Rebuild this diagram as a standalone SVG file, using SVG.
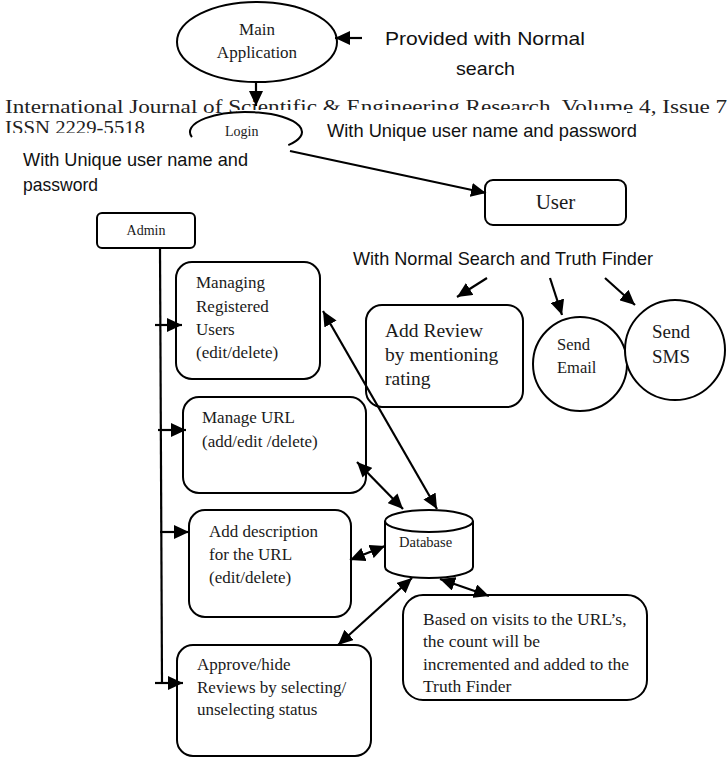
<svg xmlns="http://www.w3.org/2000/svg" width="727" height="761" viewBox="0 0 727 761">
<style>
.shape{fill:#fff;stroke:#000;stroke-width:2}
.line{fill:none;stroke:#000;stroke-width:2.2}
.serif{font-family:"Liberation Serif","Times New Roman",serif;fill:#1a1a1a}
.sans{font-family:"Liberation Sans",Arial,sans-serif;fill:#111;font-size:19px}
.hdr{font-family:"Liberation Serif","Times New Roman",serif;fill:#222;font-size:18.5px}
</style>
<defs>
<marker id="ah" markerUnits="userSpaceOnUse" markerWidth="16" markerHeight="14" refX="15" refY="7" orient="auto-start-reverse">
<path d="M0,0 L15,7 L0,14 z" fill="#000"/>
</marker>
</defs>
<rect width="727" height="761" fill="#fff"/>
<g id="header">
<text class="hdr" x="5" y="113" textLength="728" lengthAdjust="spacingAndGlyphs">International Journal of Scientific &amp; Engineering Research, Volume 4, Issue 7,</text>
<text class="hdr" x="5" y="134" textLength="140" lengthAdjust="spacingAndGlyphs">ISSN 2229-5518</text>
<rect x="237" y="110" width="390" height="18" fill="#fff"/>
<rect x="0" y="133" width="160" height="8" fill="#fff"/>
</g>
<g id="labels">
<text class="sans" x="385" y="45" textLength="200" lengthAdjust="spacingAndGlyphs">Provided with Normal</text>
<text class="sans" x="456" y="75" textLength="59" lengthAdjust="spacingAndGlyphs">search</text>
<text class="sans" x="327" y="137" textLength="310" lengthAdjust="spacingAndGlyphs">With Unique user name and password</text>
<text class="sans" x="23" y="166" textLength="225" lengthAdjust="spacingAndGlyphs">With Unique user name and</text>
<text class="sans" x="23" y="191" textLength="75" lengthAdjust="spacingAndGlyphs">password</text>
<text class="sans" x="353" y="265" textLength="300" lengthAdjust="spacingAndGlyphs">With Normal Search and Truth Finder</text>
</g>
<g id="main-application">
<ellipse class="shape" cx="257" cy="42" rx="80" ry="40"/>
<text class="serif" font-size="17" x="257" y="35" text-anchor="middle">Main</text>
<text class="serif" font-size="17" x="257" y="58" text-anchor="middle">Application</text>
</g>
<g id="login">
<path class="line" style="stroke-width:2" d="M191.9,137.2 A56,20 0 1 1 288.3,145.1"/>
<text class="serif" font-size="14" x="225" y="136">Login</text>
</g>
<g id="user">
<rect class="shape" x="485" y="180" width="141" height="45" rx="8"/>
<text class="serif" font-size="21" x="555.5" y="209" text-anchor="middle">User</text>
</g>
<g id="admin">
<rect class="shape" x="97" y="213" width="98" height="35" rx="5"/>
<text class="serif" font-size="14" x="146" y="235" text-anchor="middle">Admin</text>
</g>
<g id="managing-users">
<rect class="shape" x="176" y="262" width="144" height="117" rx="16"/>
<text class="serif" font-size="17" x="196" y="288">Managing</text>
<text class="serif" font-size="17" x="196" y="312">Registered</text>
<text class="serif" font-size="17" x="196" y="335">Users</text>
<text class="serif" font-size="17" x="196" y="358">(edit/delete)</text>
</g>
<g id="add-review">
<rect class="shape" x="366" y="305" width="157" height="102" rx="16"/>
<text class="serif" font-size="19.5" x="385" y="337">Add Review</text>
<text class="serif" font-size="19.5" x="385" y="361">by mentioning</text>
<text class="serif" font-size="19.5" x="385" y="385">rating</text>
</g>
<g id="send-email">
<circle class="shape" cx="580" cy="364" r="47"/>
<text class="serif" font-size="16.5" x="557" y="350">Send</text>
<text class="serif" font-size="16.5" x="557" y="373">Email</text>
</g>
<g id="send-sms">
<circle class="shape" cx="675" cy="350" r="50"/>
<text class="serif" font-size="19" x="652" y="338">Send</text>
<text class="serif" font-size="19" x="652" y="363">SMS</text>
</g>
<g id="manage-url">
<rect class="shape" x="183" y="397" width="183" height="96" rx="16"/>
<text class="serif" font-size="17" x="202" y="423">Manage URL</text>
<text class="serif" font-size="17" x="202" y="447">(add/edit /delete)</text>
</g>
<g id="add-description">
<rect class="shape" x="189" y="510" width="162" height="107" rx="16"/>
<text class="serif" font-size="17" x="209" y="537">Add description</text>
<text class="serif" font-size="17" x="209" y="560">for the URL</text>
<text class="serif" font-size="17" x="209" y="583">(edit/delete)</text>
</g>
<g id="database">
<path class="shape" d="M385,521 L385,567 A44,11 0 0 0 473,567 L473,521"/>
<ellipse class="shape" cx="429" cy="521" rx="44" ry="11"/>
<text class="serif" font-size="14.5" x="399" y="547">Database</text>
</g>
<g id="truth-finder-note">
<rect class="shape" x="403" y="595" width="244" height="105" rx="20"/>
<text class="serif" font-size="17.5" x="423" y="625">Based on visits to the URL’s,</text>
<text class="serif" font-size="17.5" x="423" y="647">the count will be</text>
<text class="serif" font-size="17.5" x="423" y="670">incremented and added to the</text>
<text class="serif" font-size="17.5" x="423" y="692">Truth Finder</text>
</g>
<g id="approve-reviews">
<rect class="shape" x="177" y="645" width="194" height="111" rx="16"/>
<text class="serif" font-size="17" x="197" y="670">Approve/hide</text>
<text class="serif" font-size="17" x="197" y="693">Reviews by selecting/</text>
<text class="serif" font-size="17" x="197" y="715">unselecting status</text>
</g>
<g id="connectors">
<line class="line" x1="362" y1="38" x2="335" y2="38" marker-end="url(#ah)"/>
<line class="line" x1="256" y1="82" x2="256" y2="106" marker-end="url(#ah)"/>
<line class="line" x1="290" y1="151" x2="486" y2="193" marker-end="url(#ah)"/>
<line class="line" x1="487" y1="278" x2="457" y2="297" marker-end="url(#ah)"/>
<line class="line" x1="550" y1="278" x2="562" y2="315" marker-end="url(#ah)"/>
<line class="line" x1="605" y1="278" x2="635" y2="305" marker-end="url(#ah)"/>
<line class="line" x1="160" y1="248" x2="162" y2="684"/>
<line class="line" x1="155" y1="325" x2="182" y2="325" marker-end="url(#ah)"/>
<line class="line" x1="158" y1="430" x2="186" y2="430" marker-end="url(#ah)"/>
<line class="line" x1="160" y1="532" x2="189" y2="532" marker-end="url(#ah)"/>
<line class="line" x1="155" y1="683" x2="183" y2="683" marker-end="url(#ah)"/>
<line class="line" x1="323" y1="311" x2="437" y2="509" marker-start="url(#ah)" marker-end="url(#ah)"/>
<line class="line" x1="357" y1="462" x2="403" y2="509" marker-start="url(#ah)" marker-end="url(#ah)"/>
<line class="line" x1="350" y1="560" x2="385" y2="546" marker-start="url(#ah)" marker-end="url(#ah)"/>
<line class="line" x1="338" y1="645" x2="412" y2="578" marker-start="url(#ah)" marker-end="url(#ah)"/>
<line class="line" x1="440" y1="579" x2="489" y2="596" marker-start="url(#ah)" marker-end="url(#ah)"/>
</g>
</svg>
